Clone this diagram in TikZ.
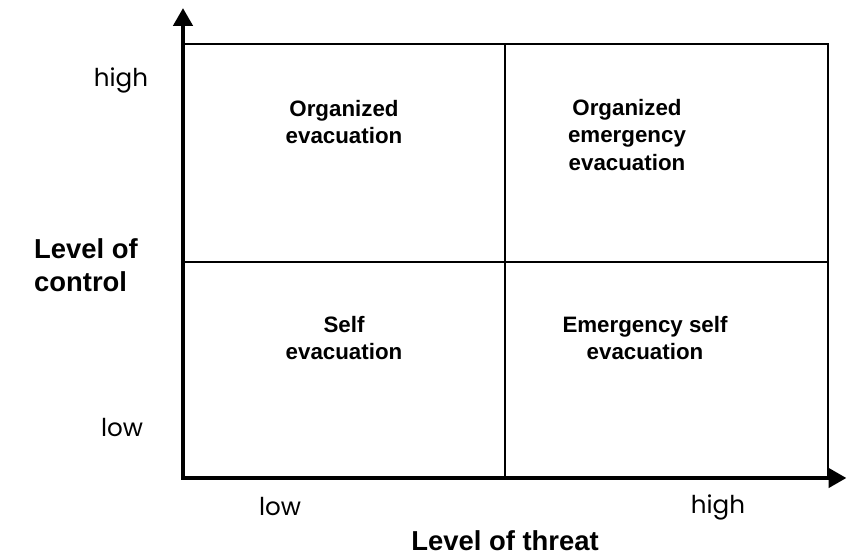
\documentclass[tikz,border=0pt]{standalone}
\usepackage{fontspec}
\setmainfont{Liberation Sans}
\newfontfamily\tickfont{Poppins}
\usetikzlibrary{arrows.meta}

\tikzset{
  axis/.style={line width=2.7pt, {Triangle[width=0.38cm,length=0.36cm]}-{Triangle[width=0.38cm,length=0.36cm]}},
  grid line/.style={line width=0.9pt},
  cell/.style={align=center, font=\bfseries\fontsize{12.7}{15.4}\selectfont},
  tick/.style={font=\tickfont\fontsize{14}{16}\selectfont},
  title/.style={align=left, font=\bfseries\fontsize{15.6}{19}\selectfont}
}

\begin{document}
\begin{tikzpicture}
  \useasboundingbox (0,0) rectangle (16.94,11.12);

  % Corners of the matrix
  \coordinate (origin) at (3.66,1.56);
  \coordinate (ytip) at (3.66,10.96);
  \coordinate (xtip) at (16.93,1.56);
  \coordinate (tl) at (3.66,10.24);
  \coordinate (tr) at (16.56,10.24);
  \coordinate (br) at (16.56,1.56);
  \coordinate (mt) at (10.1,10.24);
  \coordinate (mb) at (10.1,1.56);
  \coordinate (ml) at (3.66,5.88);
  \coordinate (mr) at (16.56,5.88);

  % Grid of the four cells
  \draw[grid line] (tl) -- (tr) -- (br);
  \draw[grid line] (mt) -- (mb);
  \draw[grid line] (ml) -- (mr);

  % Axes
  \draw[axis] (ytip) -- (origin) -- (xtip);

  % Cells
  \node[cell] (orgevac) at (6.88,8.68) {Organized\\evacuation};
  \node[cell] (orgemerg) at (12.54,8.42) {Organized\\emergency\\evacuation};
  \node[cell] (selfevac) at (6.88,4.36) {Self\\evacuation};
  \node[cell] (emergself) at (12.9,4.36) {Emergency self\\evacuation};

  % Axis labels
  \node[tick] (yhigh) at (2.42,9.52) {high};
  \node[tick] (ylow) at (2.44,2.56) {low};
  \node[tick] (xlow) at (5.6,0.98) {low};
  \node[tick] (xhigh) at (14.36,0.98) {high};
  \node[title] (control) at (1.72,5.82) {Level of\\control};
  \node[title, anchor=base] (threat) at (10.1,0.11) {Level of threat};
\end{tikzpicture}
\end{document}
